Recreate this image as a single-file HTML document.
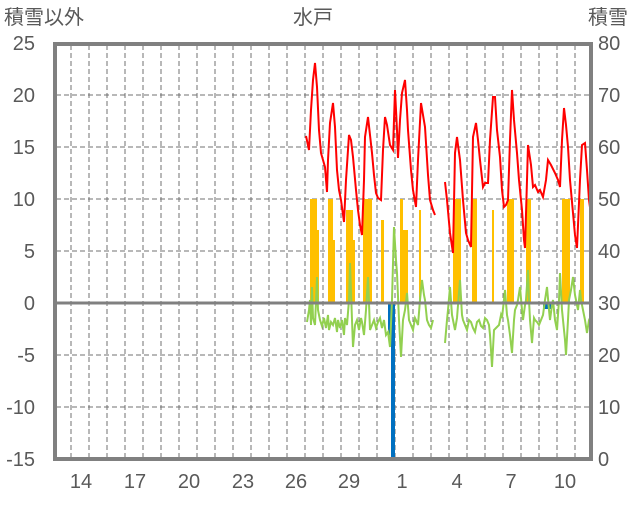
<!DOCTYPE html><html><head><meta charset="utf-8"><style>
body{margin:0;background:#fff;width:636px;height:501px;overflow:hidden}
text{font-family:"Liberation Sans","Noto Sans CJK JP",sans-serif;fill:#595959;font-size:20px}
</style></head><body>
<svg width="636" height="501" viewBox="0 0 636 501" xmlns="http://www.w3.org/2000/svg">
<g stroke="#707070" stroke-width="1" stroke-dasharray="5,3">
<line x1="71" y1="45" x2="71" y2="458"/><line x1="89" y1="45" x2="89" y2="458"/><line x1="107" y1="45" x2="107" y2="458"/><line x1="125" y1="45" x2="125" y2="458"/><line x1="143" y1="45" x2="143" y2="458"/><line x1="161" y1="45" x2="161" y2="458"/><line x1="179" y1="45" x2="179" y2="458"/><line x1="197" y1="45" x2="197" y2="458"/><line x1="215" y1="45" x2="215" y2="458"/><line x1="233" y1="45" x2="233" y2="458"/><line x1="251" y1="45" x2="251" y2="458"/><line x1="269" y1="45" x2="269" y2="458"/><line x1="287" y1="45" x2="287" y2="458"/><line x1="305" y1="45" x2="305" y2="458"/><line x1="323" y1="45" x2="323" y2="458"/><line x1="341" y1="45" x2="341" y2="458"/><line x1="359" y1="45" x2="359" y2="458"/><line x1="377" y1="45" x2="377" y2="458"/><line x1="395" y1="45" x2="395" y2="458"/><line x1="413" y1="45" x2="413" y2="458"/><line x1="431" y1="45" x2="431" y2="458"/><line x1="449" y1="45" x2="449" y2="458"/><line x1="467" y1="45" x2="467" y2="458"/><line x1="485" y1="45" x2="485" y2="458"/><line x1="503" y1="45" x2="503" y2="458"/><line x1="521" y1="45" x2="521" y2="458"/><line x1="539" y1="45" x2="539" y2="458"/><line x1="557" y1="45" x2="557" y2="458"/><line x1="575" y1="45" x2="575" y2="458"/>
<line x1="56" y1="95" x2="590" y2="95"/><line x1="56" y1="147" x2="590" y2="147"/><line x1="56" y1="199" x2="590" y2="199"/><line x1="56" y1="251" x2="590" y2="251"/><line x1="56" y1="355" x2="590" y2="355"/><line x1="56" y1="407" x2="590" y2="407"/>
</g>
<g fill="#FFC000">
<rect x="310" y="199" width="7" height="104"/><rect x="317" y="230" width="2" height="73"/>
<rect x="328" y="199" width="5" height="104"/><rect x="333" y="240" width="2" height="63"/>
<rect x="346" y="210" width="7" height="93"/><rect x="353" y="240" width="2" height="63"/>
<rect x="363" y="199" width="9" height="104"/>
<rect x="381" y="220" width="3" height="83"/>
<rect x="400" y="199" width="3" height="104"/><rect x="403" y="230" width="5" height="73"/>
<rect x="419" y="210" width="2" height="93"/>
<rect x="453" y="199" width="8" height="104"/>
<rect x="472" y="199" width="5" height="104"/>
<rect x="492" y="210" width="2" height="93"/>
<rect x="507" y="199" width="7" height="104"/>
<rect x="526" y="199" width="5" height="104"/>
<rect x="562" y="199" width="8" height="104"/>
<rect x="580" y="199" width="4" height="104"/>
</g>
<g fill="#0070C0">
<rect x="388" y="303" width="5" height="32"/><rect x="391" y="303" width="4" height="154"/><rect x="543" y="303" width="8" height="6"/>
</g>
<polyline fill="none" stroke="#92D050" stroke-width="2" points="307,322 309,310 310,300 311,325 312,287 313,318 315,325 317,277 318,310 320,320 322,326 324,318 326,328 328,315 329,330 331,322 333,325 335,318 337,332 338,320 340,328 342,320 344,335 345,318 347,325 349,300 350,263 352,320 353,347 355,325 357,320 359,330 361,318 362,322 364,335 366,310 368,277 370,330 372,325 374,320 376,328 378,322 380,318 382,328 384,320 386,335 388,332 390,347 392,300 394,227 396,260 397,273 399,320 401,357 403,320 405,310 407,293 409,320 411,325 413,330 415,318 416,320 418,325 420,300 422,280 424,295 425,300 427,320 429,325 431,328 433,320"/>
<polyline fill="none" stroke="#92D050" stroke-width="2" points="445,343 447,320 448,310 450,287 452,315 453,320 455,330 457,318 460,280 462,315 463,320 465,325 467,330 469,320 471,322 473,328 475,332 477,322 479,320 481,326 483,328 485,318 487,320 489,325 490,335 491,350 492,367 494,330 496,328 499,325 501,315 502,318 505,290 507,315 508,320 510,335 512,353 514,320 515,310 517,305 518,300 520,287 522,310 523,320 525,305 526,300 528,270 529,300 530,320 532,343 534,318 535,320 537,322 539,325 541,320 543,315 545,300 547,287 549,310 550,320 552,305 553,300 555,320 557,330 559,300 560,273 562,310 563,320 565,340 566,355 568,320 569,300 571,290 573,277 575,295 576,300 578,310 580,290 581,300 583,310 585,320 587,333 589,320 590,318 592,320"/>
<polyline fill="none" stroke="#FF0000" stroke-width="2" points="306,136 309,150 311,110 313,80 315,63 317,87 319,130 321,153 323,160 325,167 327,192 328,160 330,123 333,103 335,127 337,170 339,190 341,200 344,222 346,180 349,135 351,140 353,157 356,190 358,210 360,225 362,235 364,180 365,137 368,117 370,135 372,153 374,175 376,193 378,198 381,200 383,150 385,117 387,125 390,145 393,150 395,90 397,130 398,158 400,120 402,93 405,80 407,110 408,130 411,170 413,190 416,207 418,160 421,103 423,115 425,127 428,175 430,200 433,210 435,215"/>
<polyline fill="none" stroke="#FF0000" stroke-width="2" points="445,182 447,200 450,233 453,253 455,153 457,137 458,145 460,160 463,200 466,233 468,240 471,247 473,137 476,123 478,140 480,160 483,187 485,183 488,183 490,140 493,97 495,97 497,130 500,157 502,190 504,207 506,205 508,200 510,140 512,90 514,120 517,153 519,180 522,210 524,240 525,248 527,180 528,145 531,165 533,187 535,185 538,192 540,190 543,197 546,180 548,160 551,165 555,173 558,180 560,187 562,140 564,108 566,125 568,147 570,180 573,213 575,235 577,248 580,180 582,145 585,143 587,170 589,200 592,222"/>
<g stroke="#7030A0" stroke-width="3"><line x1="350" y1="459" x2="436" y2="459"/><line x1="443" y1="459" x2="592" y2="459"/></g>
<line x1="56" y1="303" x2="590" y2="303" stroke="#808080" stroke-width="3"/>
<rect x="55" y="44" width="536" height="415" fill="none" stroke="#808080" stroke-width="4"/>
<text x="4" y="24">積雪以外</text><text x="313" y="24" text-anchor="middle">水戸</text><text x="588" y="24">積雪</text>
<g text-anchor="end"><text x="35" y="50">25</text><text x="35" y="102">20</text><text x="35" y="154">15</text><text x="35" y="206">10</text><text x="35" y="258">5</text><text x="35" y="310">0</text><text x="35" y="362">-5</text><text x="35" y="414">-10</text><text x="35" y="466">-15</text></g>
<g><text x="598" y="50">80</text><text x="598" y="102">70</text><text x="598" y="154">60</text><text x="598" y="206">50</text><text x="598" y="258">40</text><text x="598" y="310">30</text><text x="598" y="362">20</text><text x="598" y="414">10</text><text x="598" y="466">0</text></g>
<g text-anchor="middle"><text x="81" y="488">14</text><text x="135" y="488">17</text><text x="189" y="488">20</text><text x="243" y="488">23</text><text x="296" y="488">26</text><text x="349" y="488">29</text><text x="402" y="488">1</text><text x="457" y="488">4</text><text x="511" y="488">7</text><text x="565" y="488">10</text></g>
</svg></body></html>
